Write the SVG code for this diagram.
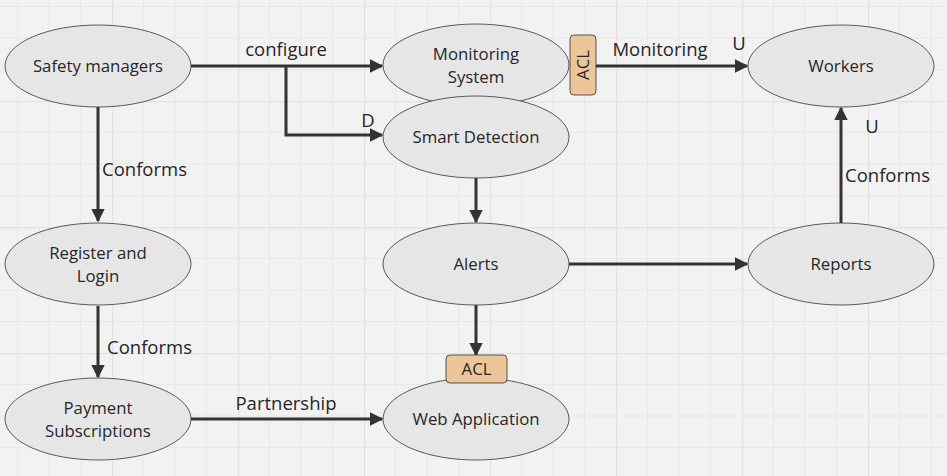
<svg xmlns="http://www.w3.org/2000/svg" width="947" height="476" viewBox="0 0 947 476">
<defs>
<pattern id="grid" x="112" y="101" width="126" height="126" patternUnits="userSpaceOnUse">
<path d="M31.5 0V126M63 0V126M94.5 0V126M0 31.5H126M0 63H126M0 94.5H126" stroke="#e8e8e8" stroke-width="1" fill="none"/>
<path d="M0.5 0V126M0 0.5H126" stroke="#e2e2e2" stroke-width="1.5" fill="none"/>
</pattern>
<marker id="arr" viewBox="0 0 10 10" refX="9" refY="5" markerWidth="4.5" markerHeight="4.5" orient="auto" markerUnits="strokeWidth">
<path d="M0 0L10 5L0 10z" fill="#333"/>
</marker>
<style>
.n{fill:#e6e6e6;stroke:#333;stroke-width:0.8}
.t{font-family:"Open Sans","Noto Sans",sans-serif;font-size:16.8px;fill:#262626;text-anchor:middle}
.l{font-family:"Open Sans","Noto Sans",sans-serif;font-size:18.5px;fill:#262626}
.e{fill:none;stroke:#333;stroke-width:3}
.acl{fill:#ecc598;stroke:#333;stroke-width:0.8}
</style>
</defs>
<rect width="947" height="476" fill="#f2f2f2"/>
<rect width="947" height="476" fill="url(#grid)"/>
<g id="connectors">
<path class="e" d="M191 66H382" marker-end="url(#arr)"/>
<path class="e" d="M286 66V135H382" marker-end="url(#arr)"/>
<path class="e" d="M596 66H747" marker-end="url(#arr)"/>
<path class="e" d="M98 107V221" marker-end="url(#arr)"/>
<path class="e" d="M98 306V377" marker-end="url(#arr)"/>
<path class="e" d="M191 419H382" marker-end="url(#arr)"/>
<path class="e" d="M476 178V222" marker-end="url(#arr)"/>
<path class="e" d="M476 305V355" marker-end="url(#arr)"/>
<path class="e" d="M569 264H747" marker-end="url(#arr)"/>
<path class="e" d="M841 223V108" marker-end="url(#arr)"/>
<text class="l" x="286" y="56" text-anchor="middle">configure</text>
<text class="l" x="368" y="127" text-anchor="middle">D</text>
<text class="l" x="660" y="56" text-anchor="middle">Monitoring</text>
<text class="l" x="739" y="50" text-anchor="middle">U</text>
<text class="l" x="102" y="176">Conforms</text>
<text class="l" x="107" y="354">Conforms</text>
<text class="l" x="286" y="410" text-anchor="middle">Partnership</text>
<text class="l" x="872" y="133" text-anchor="middle">U</text>
<text class="l" x="845" y="182">Conforms</text>
</g>
<g id="safety-managers"><ellipse class="n" cx="98" cy="66" rx="93" ry="41"/><text class="t" x="98" y="72">Safety managers</text></g>
<g id="monitoring-system"><ellipse class="n" cx="476" cy="65" rx="93" ry="41"/><text class="t" x="476" y="60">Monitoring</text><text class="t" x="476" y="83">System</text></g>
<g id="acl-monitoring"><rect class="acl" x="570" y="35" width="26" height="60" rx="4"/><text class="t" transform="translate(589 65) rotate(-90)">ACL</text></g>
<g id="smart-detection"><ellipse class="n" cx="476" cy="137" rx="93" ry="41"/><text class="t" x="476" y="143">Smart Detection</text></g>
<g id="workers"><ellipse class="n" cx="841" cy="66" rx="93" ry="41"/><text class="t" x="841" y="72">Workers</text></g>
<g id="register-login"><ellipse class="n" cx="98" cy="264" rx="93" ry="41"/><text class="t" x="98" y="259">Register and</text><text class="t" x="98" y="282">Login</text></g>
<g id="alerts"><ellipse class="n" cx="476" cy="264" rx="93" ry="41"/><text class="t" x="476" y="270">Alerts</text></g>
<g id="reports"><ellipse class="n" cx="841" cy="264" rx="93" ry="41"/><text class="t" x="841" y="270">Reports</text></g>
<g id="payment-subscriptions"><ellipse class="n" cx="98" cy="419" rx="93" ry="41"/><text class="t" x="98" y="414">Payment</text><text class="t" x="98" y="437">Subscriptions</text></g>
<g id="web-application"><ellipse class="n" cx="476" cy="419" rx="93" ry="41"/><text class="t" x="476" y="425">Web Application</text></g>
<g id="acl-web"><rect class="acl" x="446" y="355" width="61" height="28" rx="4"/><text class="t" x="476.5" y="375">ACL</text></g>
</svg>
